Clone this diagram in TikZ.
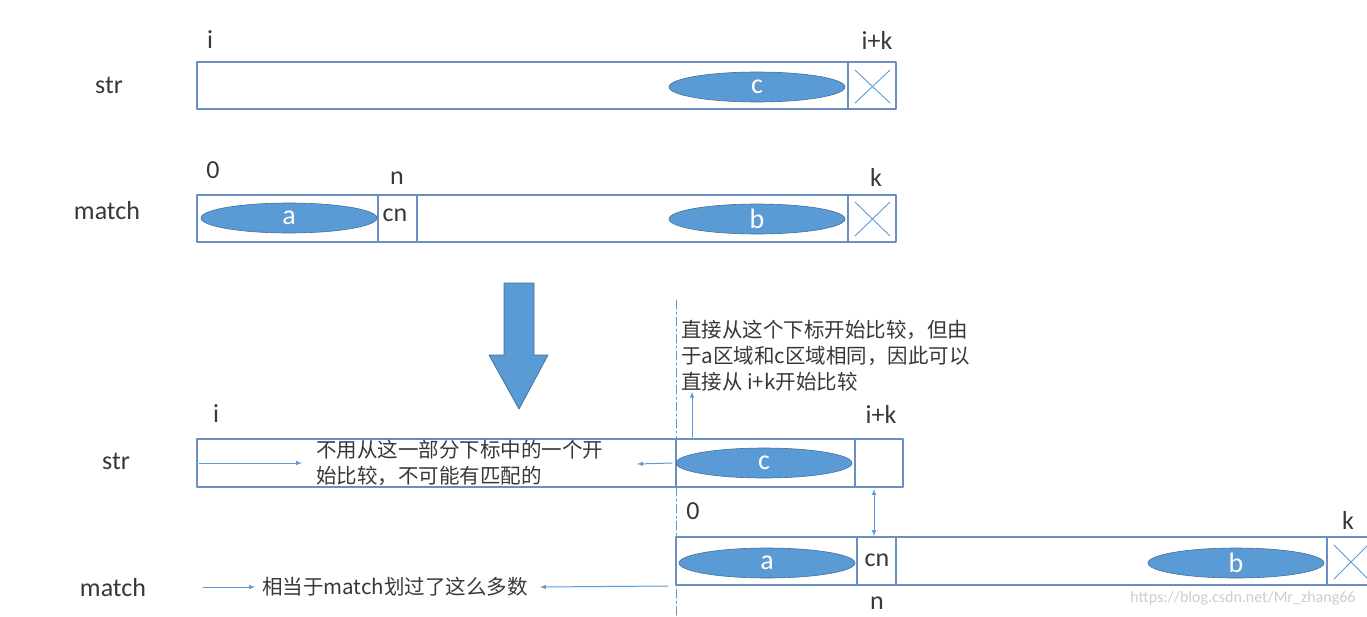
\documentclass[tikz,border=0pt]{standalone}
\usepackage{fontspec}
\setmainfont{Carlito}
\newfontfamily\cjk{Noto Sans CJK SC}
\usetikzlibrary{arrows,shapes.geometric}
\definecolor{wbwbdf}{rgb}{0.357,0.608,0.835}
\definecolor{qqbbcc}{rgb}{0.255,0.443,0.612}
\definecolor{bbccee}{rgb}{0.42,0.56,0.76}
\definecolor{zzzzzz}{rgb}{0.22,0.22,0.22}
\definecolor{ddddee}{rgb}{0.80,0.80,0.82}

\begin{document}
\begin{tikzpicture}[line cap=round,line join=round,>=latex,x=1pt,y=-1pt,
    cell/.style={draw=bbccee,line width=1.3pt},
    xline/.style={draw=wbwbdf,line width=0.9pt},
    blob/.style={ellipse,fill=wbwbdf,draw=qqbbcc,line width=0.6pt,minimum width=176pt,minimum height=30pt,inner sep=0pt,text=white,font=\fontsize{28}{28}\selectfont},
    lbl/.style={text=zzzzzz,font=\fontsize{26}{26}\selectfont},
    note/.style={text=zzzzzz,font=\cjk\fontsize{20.5}{26}\selectfont,align=left,inner sep=0pt,anchor=west},
    pointer/.style={->,draw=wbwbdf,line width=1pt}]
    \useasboundingbox (0,0) rectangle (1367,616);
    \clip (0,0) rectangle (1367,616);
    % str, before
    \draw [cell] (197,62) rectangle (896,109);
    \draw [cell] (848,62) -- (848,109);
    \draw [xline] (855,70) -- (890,103);
    \draw [xline] (855,103) -- (890,70);
    \node [blob] (c1) at (757,87) {c};
    \node [lbl] (i1) at (210,40) {i};
    \node [lbl] (ik1) at (877,40) {i+k};
    \node [lbl] (str1) at (109,85) {str};
    % match, before
    \draw [cell] (197,195) rectangle (896,242);
    \draw [cell] (378,195) -- (378,242);
    \draw [cell] (417,195) -- (417,242);
    \draw [cell] (848,195) -- (848,242);
    \draw [xline] (855,202) -- (890,236);
    \draw [xline] (855,236) -- (890,202);
    \node [blob] (a1) at (289,218) {a};
    \node [blob] (b1) at (757,219) {b};
    \node [lbl] (cn1) at (395,215) {cn};
    \node [lbl] (z1) at (213,170) {0};
    \node [lbl] (n1) at (397,178) {n};
    \node [lbl] (k1) at (876,177) {k};
    \node [lbl] (match1) at (107,211) {match};
    % big arrow
    \draw [fill=wbwbdf,draw=qqbbcc,line width=0.8pt] (504,283) -- (534,283) -- (534,355) -- (548,355) -- (519,409) -- (489,355) -- (504,355) -- cycle;
    % shift line
    \draw [draw=wbwbdf,line width=1pt,dash pattern=on 9pt off 3pt on 2pt off 3pt] (676,300) -- (676,616);
    \node [note] (hint) at (681,356) {直接从这个下标开始比较，但由\\于a区域和c区域相同，因此可以\\直接从 i+k开始比较};
    \coordinate (up0) at (692,437);
    \draw [pointer] (up0) -- (up0 |- hint.south);
    % str, after
    \draw [cell] (197,439) rectangle (903,487);
    \draw [cell] (676,439) -- (676,487);
    \draw [cell] (855,439) -- (855,487);
    \node [blob] (c2) at (764,463) {c};
    \node [lbl] (i2) at (216,414) {i};
    \node [lbl] (ik2) at (881,414) {i+k};
    \node [lbl] (str2) at (116,461) {str};
    \node [note] (skip) at (316,463) {不用从这一部分下标中的一个开\\始比较，不可能有匹配的};
    \coordinate (s0) at (199,463);
    \coordinate (s1) at (302,463);
    \coordinate (s2) at (672,463);
    \coordinate (s3) at (637,464);
    \draw [pointer] (s0) -- (s1);
    \draw [pointer] (s2) -- (s3);
    \coordinate (v0) at (874,489);
    \coordinate (v1) at (874,536);
    \draw [pointer,<->] (v0) -- (v1);
    % match, after
    \draw [cell] (676,537) rectangle (1380,585);
    \draw [cell] (857,537) -- (857,585);
    \draw [cell] (896,537) -- (896,585);
    \draw [cell] (1327,537) -- (1327,585);
    \draw [xline] (1334,545) -- (1368,579);
    \draw [xline] (1334,579) -- (1368,545);
    \node [blob] (a2) at (767,563) {a};
    \node [blob] (b2) at (1236,563) {b};
    \node [lbl] (cn2) at (877,560) {cn};
    \node [lbl] (z2) at (693,511) {0};
    \node [lbl] (k2) at (1348,520) {k};
    \node [lbl] (n2) at (877,603) {n};
    \node [lbl] (match2) at (113,588) {match};
    \node [note] (same) at (262,587) {相当于match划过了这么多数};
    \coordinate (m0) at (203,587);
    \coordinate (m1) at (255,587);
    \coordinate (m2) at (668,586);
    \coordinate (m3) at (540,587);
    \draw [pointer] (m0) -- (m1);
    \draw [pointer] (m2) -- (m3);
    \node [text=ddddee,font=\fontsize{16}{16}\selectfont] (wm) at (1243,598) {https://blog.csdn.net/Mr\_zhang66};
\end{tikzpicture}
\end{document}
